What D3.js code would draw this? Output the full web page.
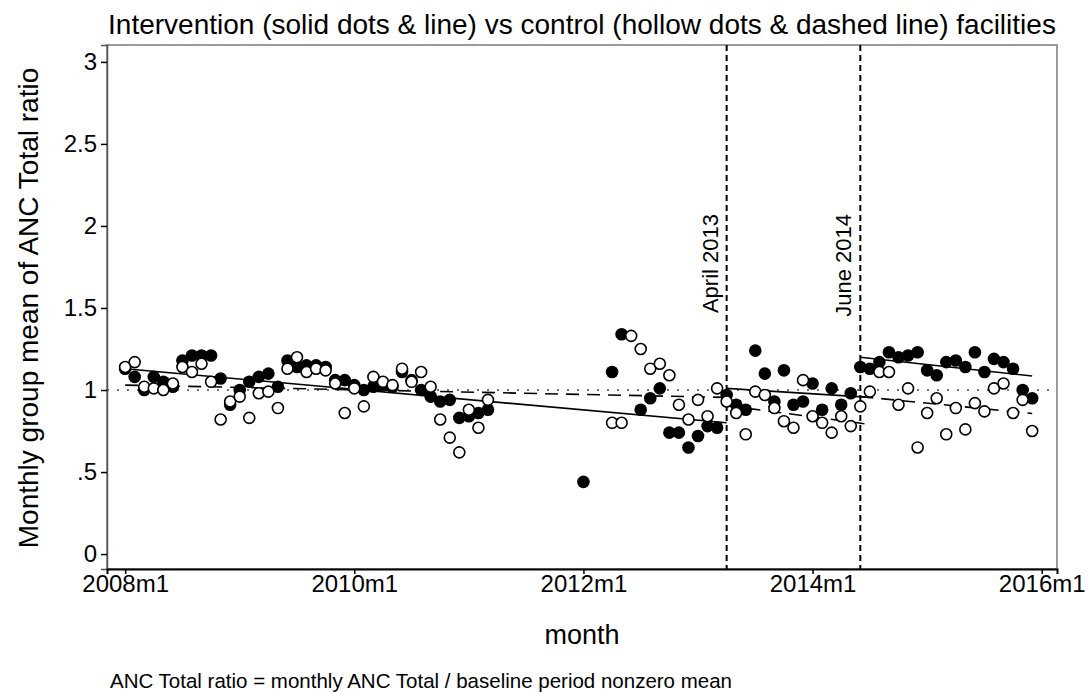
<!DOCTYPE html>
<html>
<head>
<meta charset="utf-8">
<script src="https://cdn.jsdelivr.net/npm/d3@7"></script>
<style>
  body { margin:0; background:#fff; }
  text { font-family: "Liberation Sans", Arial, sans-serif; fill:#000; }
</style>
</head>
<body>
<div id="chart"></div>
<script>
// month index 0 = 2008m1 ... 95 = 2015m12, null = no data
var intervention = [
  1.13,1.08,1.00,1.08,1.05,1.02,1.18,1.21,1.21,1.21,1.07,0.91,
  1.00,1.05,1.08,1.10,1.02,1.18,1.14,1.15,1.15,1.14,1.06,1.06,
  1.03,1.00,1.02,1.03,1.02,1.11,1.06,1.00,0.96,0.93,0.94,0.83,
  0.84,0.86,0.88,null,null,null,null,null,null,null,null,null,
  0.44,null,null,1.11,1.34,null,0.88,0.95,1.01,0.74,0.74,0.65,
  0.72,0.78,0.77,0.97,0.91,0.88,1.24,1.10,0.93,1.12,0.91,0.93,
  1.04,0.88,1.01,0.91,0.98,1.14,1.13,1.17,1.23,1.20,1.21,1.23,
  1.12,1.09,1.17,1.18,1.14,1.23,1.11,1.19,1.17,1.13,1.00,0.95
];
var control = [
  1.14,1.17,1.02,1.01,1.00,1.04,1.14,1.11,1.16,1.05,0.82,0.93,
  0.96,0.83,0.98,0.99,0.89,1.13,1.20,1.11,1.13,1.12,1.04,0.86,
  1.01,0.90,1.08,1.05,1.03,1.13,1.05,1.11,1.02,0.82,0.71,0.62,
  0.88,0.77,0.94,null,null,null,null,null,null,null,null,null,
  null,null,null,0.80,0.80,1.33,1.25,1.13,1.16,1.09,0.91,0.82,
  0.94,0.84,1.01,0.93,0.86,0.73,0.99,0.97,0.89,0.81,0.77,1.06,
  0.84,0.80,0.74,0.84,0.78,0.90,0.99,1.11,1.11,0.91,1.01,0.65,
  0.86,0.95,0.73,0.89,0.76,0.92,0.87,1.01,1.04,0.86,0.94,0.75
];
// fitted segments [start month, end month, start value, end value]
var fitIntervention = [[0,63,1.13,0.80],[63,78,1.01,0.955],[77,95,1.20,1.085]];
var fitControl = [[0,63,1.03,0.955],[63,78,0.905,0.79],[77,95,0.96,0.857]];

var xTicks = [0,24,48,72,96];
var xTickLabels = ["2008m1","2010m1","2012m1","2014m1","2016m1"];
var yTicks = [0,0.5,1,1.5,2,2.5,3];
var yTickLabels = ["0",".5","1","1.5","2","2.5","3"];
var events = [{m:63,label:"April 2013"},{m:77,label:"June 2014"}];

var W = 1092, H = 692;
var pLeft = 107, pRight = 1057, pTop = 45, pBottom = 569;

var svg = d3.select("#chart").append("svg")
  .attr("width", W).attr("height", H);

var x = d3.scaleLinear().domain([-1.9, 97.6]).range([pLeft, pRight]);
var y = d3.scaleLinear().domain([-0.091, 3.103]).range([pBottom, pTop]);

// frame
svg.append("rect")
  .attr("x", pLeft).attr("y", pTop)
  .attr("width", pRight-pLeft).attr("height", pBottom-pTop)
  .attr("fill", "none").attr("stroke", "#9a9a9a").attr("stroke-width", 2);

// axes
var yAxis = d3.axisLeft(y).tickValues(yTicks)
  .tickFormat(function(d,i){ return yTickLabels[i]; })
  .tickSize(6).tickPadding(4);
var gy = svg.append("g").attr("transform", "translate(" + pLeft + ",0)").call(yAxis)
  .attr("font-family", null).attr("font-size", null);
gy.select(".domain").attr("stroke", "#555").attr("stroke-width", 1.5);
gy.selectAll(".tick line").attr("stroke", "#000").attr("stroke-width", 1.5);
gy.selectAll(".tick text").attr("font-size", 24);

var xAxis = d3.axisBottom(x).tickValues(xTicks)
  .tickFormat(function(d,i){ return xTickLabels[i]; })
  .tickSize(5).tickPadding(1);
var gx = svg.append("g").attr("transform", "translate(0," + pBottom + ")").call(xAxis)
  .attr("font-family", null).attr("font-size", null);
gx.select(".domain").attr("stroke", "#000").attr("stroke-width", 2);
gx.selectAll(".tick line").attr("stroke", "#000").attr("stroke-width", 1.5);
gx.selectAll(".tick text").attr("font-size", 24);

// reference line at 1
svg.append("line")
  .attr("x1", pLeft).attr("x2", pRight)
  .attr("y1", y(1)).attr("y2", y(1))
  .attr("stroke", "#444").attr("stroke-width", 1.5)
  .attr("stroke-dasharray", "2,8");

// event lines
svg.selectAll(".event").data(events).enter().append("line")
  .attr("x1", function(d){ return x(d.m); }).attr("x2", function(d){ return x(d.m); })
  .attr("y1", pTop).attr("y2", pBottom)
  .attr("stroke", "#000").attr("stroke-width", 2)
  .attr("stroke-dasharray", "6,4");
svg.selectAll(".eventLabel").data(events).enter().append("text")
  .attr("transform", function(d){ return "translate(" + (x(d.m) - 9) + ",214) rotate(-90)"; })
  .attr("text-anchor", "end")
  .attr("font-size", 22)
  .text(function(d){ return d.label; });

// fit lines
function seg(d){ return [[d[0], d[2]], [d[1], d[3]]]; }
var line = d3.line().x(function(p){ return x(p[0]); }).y(function(p){ return y(p[1]); });
svg.selectAll(".fitI").data(fitIntervention).enter().append("path")
  .attr("d", function(d){ return line(seg(d)); })
  .attr("fill", "none").attr("stroke", "#000").attr("stroke-width", 1.6);
svg.selectAll(".fitC").data(fitControl).enter().append("path")
  .attr("d", function(d){ return line(seg(d)); })
  .attr("fill", "none").attr("stroke", "#000").attr("stroke-width", 1.6)
  .attr("stroke-dasharray", "13,8");

// points
var iPts = intervention.map(function(v,i){ return {m:i, v:v}; }).filter(function(d){ return d.v != null; });
var cPts = control.map(function(v,i){ return {m:i, v:v}; }).filter(function(d){ return d.v != null; });

svg.selectAll(".solid").data(iPts).enter().append("circle")
  .attr("cx", function(d){ return x(d.m); })
  .attr("cy", function(d){ return y(d.v); })
  .attr("r", 6.3)
  .attr("fill", "#000");
svg.selectAll(".hollow").data(cPts).enter().append("circle")
  .attr("cx", function(d){ return x(d.m); })
  .attr("cy", function(d){ return y(d.v); })
  .attr("r", 5.5)
  .attr("fill", "#fff").attr("stroke", "#000").attr("stroke-width", 1.6);

// titles
svg.append("text")
  .attr("x", 582).attr("y", 34)
  .attr("text-anchor", "middle").attr("font-size", 28)
  .text("Intervention (solid dots & line) vs control (hollow dots & dashed line) facilities");
svg.append("text")
  .attr("x", 582).attr("y", 644)
  .attr("text-anchor", "middle").attr("font-size", 27)
  .text("month");
svg.append("text")
  .attr("transform", "translate(38,308) rotate(-90)")
  .attr("text-anchor", "middle").attr("font-size", 28)
  .text("Monthly group mean of ANC Total ratio");
svg.append("text")
  .attr("x", 110).attr("y", 688)
  .attr("font-size", 20.5)
  .text("ANC Total ratio = monthly ANC Total / baseline period nonzero mean");
</script>
</body>
</html>
